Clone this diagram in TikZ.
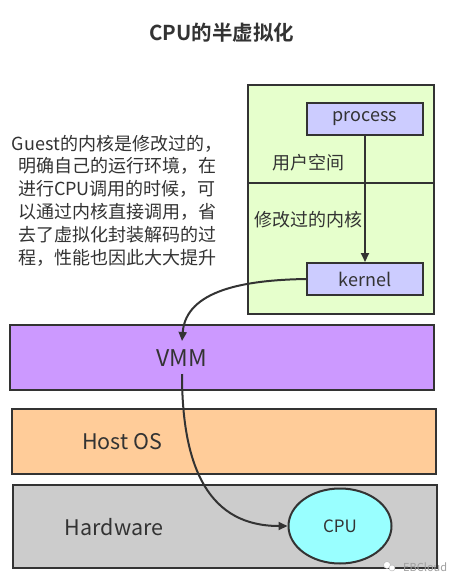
\documentclass[tikz,border=0pt]{standalone}
\usepackage{fontspec}
\setmainfont{Noto Sans CJK SC}[BoldFont={Noto Sans CJK SC Bold}]
\usetikzlibrary{arrows.meta,shapes.geometric}
\definecolor{edge}{HTML}{333333}
\definecolor{guestfill}{HTML}{E6FFCC}
\definecolor{procfill}{HTML}{CCCCFF}
\definecolor{vmmfill}{HTML}{CC99FF}
\definecolor{hostfill}{HTML}{FFCC99}
\definecolor{hwfill}{HTML}{CCCCCC}
\definecolor{cpufill}{HTML}{99FFFF}
\newcommand{\fs}[1]{\fontsize{#1}{#1}\selectfont}
\begin{document}
\begin{tikzpicture}[x=1pt,y=-1pt,
  box/.style={draw=edge, line width=2pt, rectangle, inner sep=0pt},
  lbl/.style={text=edge, inner sep=0pt, font=\fs{18}},
  conn/.style={draw=edge, line width=2pt, -{Triangle[length=9pt,width=8pt]}}]
\useasboundingbox (0,0) rectangle (462,585);
\fill[white] (0,0) rectangle (462,585);
% title
\node[text=edge, font=\fs{20.5}\bfseries] (title) at (222,33) {CPU的半虚拟化};
% guest area
\node[box, fill=guestfill, minimum width=186pt, minimum height=229pt] (guest) at (341,199.5) {};
\coordinate (divy) at (0,183);
\draw[edge, line width=2pt] (guest.west |- divy) -- (guest.east |- divy);
\node[box, fill=procfill, minimum width=116pt, minimum height=32pt, font=\fs{18}, text=edge] (process) at (365,119) {process};
\node[box, fill=procfill, minimum width=116pt, minimum height=32pt, font=\fs{18}, text=edge] (kernel) at (365,279) {kernel};
\node[lbl] (user) at (308.5,163) {用户空间};
\node[lbl] (modk) at (308.5,220) {修改过的内核};
% left description
\node[text=edge, align=center, inner sep=0pt, font=\fontsize{18}{22.8}\selectfont] (desc) at (117,200.5)
  {Guest的内核是修改过的，\\明确自己的运行环境，在\\进行CPU调用的时候，可\\以通过内核直接调用，省\\去了虚拟化封装解码的过\\程，性能也因此大大提升};
% layers
\node[box, fill=vmmfill, minimum width=424pt, minimum height=65pt] (vmm) at (222,357.5) {};
\node[lbl, font=\fs{23}] (vmmtxt) at (182,358) {VMM};
\node[box, fill=hostfill, minimum width=424pt, minimum height=65pt] (host) at (224,441.5) {};
\node[lbl, font=\fs{21.5}] (hosttxt) at (122,442) {Host OS};
\node[box, fill=hwfill, minimum width=424pt, minimum height=83pt] (hw) at (225,526.5) {};
\node[lbl, font=\fs{21.5}] (hwtxt) at (114,527) {Hardware};
\node[draw=edge, line width=2pt, ellipse, fill=cpufill, minimum width=103pt, minimum height=75pt, inner sep=0pt, font=\fs{17}, text=edge] (cpu) at (340,526) {CPU};
% connectors
\draw[conn] (process.south) -- (kernel.north);
\coordinate (vmmin) at (182,341);
\coordinate (vmmout) at (182,374);
\draw[conn] (kernel.west) .. controls (245,280) and (186,290) .. (vmmin);
\draw[conn] (vmmout) .. controls (182,470) and (210,526) .. (cpu.west);
% watermark
\node[draw=gray!60, fill=white, circle, inner sep=0pt, minimum size=7pt] (wmicon1) at (387,565) {};
\node[draw=gray!60, fill=white, circle, inner sep=0pt, minimum size=6pt] (wmicon2) at (392,568) {};
\node[text=gray!75, font=\fs{11}, inner sep=0pt, anchor=west] (wm) at (403,567) {EBCloud};
\end{tikzpicture}
\end{document}
